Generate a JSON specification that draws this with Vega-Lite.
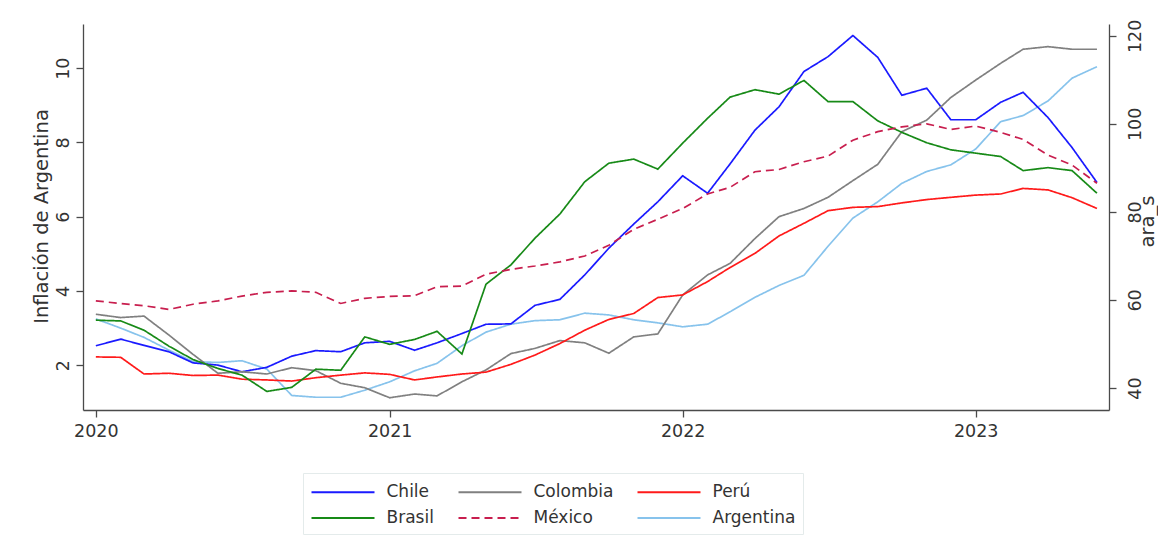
{
  "$schema": "https://vega.github.io/schema/vega-lite/v6.json",
  "width": 1026,
  "height": 386,
  "autosize": {"type": "none"},
  "padding": {"left": 83, "top": 24, "right": 49, "bottom": 144},
  "background": "white",
  "config": {
    "font": "DejaVu Sans",
    "view": {"stroke": null},
    "axis": {
      "grid": false,
      "domainColor": "#4a4a4a",
      "domainWidth": 1.3,
      "tickColor": "#4a4a4a",
      "tickWidth": 1.3,
      "tickSize": 7,
      "labelColor": "#333333",
      "labelFontSize": 17.5,
      "labelFont": "DejaVu Sans",
      "titleFont": "DejaVu Sans",
      "titleFontSize": 19.5,
      "titleFontWeight": "normal",
      "titleColor": "#333333"
    },
    "legend": {
      "orient": "none",
      "legendX": 220,
      "legendY": 449,
      "columns": 3,
      "symbolType": "M-1,0H5",
      "symbolSize": 441,
      "symbolStrokeWidth": 2,
      "labelFontSize": 17,
      "labelFont": "DejaVu Sans",
      "labelColor": "#333333",
      "labelOffset": 53,
      "columnPadding": 20,
      "rowPadding": 6,
      "padding": 7.5,
      "strokeColor": "#e4ebeb"
    }
  },
  "data": {
    "values": [
      {"date": "2020-01-01", "Chile": 2.52, "Brasil": 3.21, "Colombia": 3.37, "Perú": 2.22, "México": 3.73, "Argentina": 55.7},
      {"date": "2020-02-01", "Chile": 2.70, "Brasil": 3.19, "Colombia": 3.28, "Perú": 2.21, "México": 3.66, "Argentina": 53.6},
      {"date": "2020-03-01", "Chile": 2.53, "Brasil": 2.94, "Colombia": 3.32, "Perú": 1.76, "México": 3.60, "Argentina": 51.5},
      {"date": "2020-04-01", "Chile": 2.36, "Brasil": 2.51, "Colombia": 2.81, "Perú": 1.78, "México": 3.50, "Argentina": 48.6},
      {"date": "2020-05-01", "Chile": 2.06, "Brasil": 2.15, "Colombia": 2.29, "Perú": 1.72, "México": 3.64, "Argentina": 46.0},
      {"date": "2020-06-01", "Chile": 2.00, "Brasil": 1.91, "Colombia": 1.78, "Perú": 1.73, "México": 3.73, "Argentina": 45.8},
      {"date": "2020-07-01", "Chile": 1.82, "Brasil": 1.73, "Colombia": 1.82, "Perú": 1.62, "México": 3.86, "Argentina": 46.2},
      {"date": "2020-08-01", "Chile": 1.94, "Brasil": 1.29, "Colombia": 1.76, "Perú": 1.60, "México": 3.96, "Argentina": 44.3},
      {"date": "2020-09-01", "Chile": 2.24, "Brasil": 1.40, "Colombia": 1.93, "Perú": 1.57, "México": 4.00, "Argentina": 38.3},
      {"date": "2020-10-01", "Chile": 2.39, "Brasil": 1.89, "Colombia": 1.85, "Perú": 1.66, "México": 3.96, "Argentina": 37.9},
      {"date": "2020-11-01", "Chile": 2.36, "Brasil": 1.86, "Colombia": 1.51, "Perú": 1.73, "México": 3.66, "Argentina": 37.9},
      {"date": "2020-12-01", "Chile": 2.60, "Brasil": 2.76, "Colombia": 1.39, "Perú": 1.79, "México": 3.80, "Argentina": 39.5},
      {"date": "2021-01-01", "Chile": 2.64, "Brasil": 2.56, "Colombia": 1.12, "Perú": 1.75, "México": 3.85, "Argentina": 41.4},
      {"date": "2021-02-01", "Chile": 2.40, "Brasil": 2.69, "Colombia": 1.22, "Perú": 1.60, "México": 3.87, "Argentina": 43.9},
      {"date": "2021-03-01", "Chile": 2.60, "Brasil": 2.91, "Colombia": 1.17, "Perú": 1.68, "México": 4.11, "Argentina": 45.6},
      {"date": "2021-04-01", "Chile": 2.85, "Brasil": 2.30, "Colombia": 1.55, "Perú": 1.76, "México": 4.13, "Argentina": 49.6},
      {"date": "2021-05-01", "Chile": 3.10, "Brasil": 4.18, "Colombia": 1.87, "Perú": 1.81, "México": 4.45, "Argentina": 52.7},
      {"date": "2021-06-01", "Chile": 3.11, "Brasil": 4.70, "Colombia": 2.31, "Perú": 2.02, "México": 4.58, "Argentina": 54.5},
      {"date": "2021-07-01", "Chile": 3.61, "Brasil": 5.42, "Colombia": 2.45, "Perú": 2.27, "México": 4.67, "Argentina": 55.3},
      {"date": "2021-08-01", "Chile": 3.77, "Brasil": 6.07, "Colombia": 2.66, "Perú": 2.58, "México": 4.78, "Argentina": 55.5},
      {"date": "2021-09-01", "Chile": 4.43, "Brasil": 6.94, "Colombia": 2.60, "Perú": 2.94, "México": 4.94, "Argentina": 57.0},
      {"date": "2021-10-01", "Chile": 5.15, "Brasil": 7.44, "Colombia": 2.32, "Perú": 3.23, "México": 5.23, "Argentina": 56.6},
      {"date": "2021-11-01", "Chile": 5.80, "Brasil": 7.55, "Colombia": 2.76, "Perú": 3.39, "México": 5.66, "Argentina": 55.5},
      {"date": "2021-12-01", "Chile": 6.40, "Brasil": 7.28, "Colombia": 2.84, "Perú": 3.82, "México": 5.93, "Argentina": 54.8},
      {"date": "2022-01-01", "Chile": 7.10, "Brasil": 7.98, "Colombia": 3.89, "Perú": 3.89, "México": 6.22, "Argentina": 53.9},
      {"date": "2022-02-01", "Chile": 6.63, "Brasil": 8.65, "Colombia": 4.43, "Perú": 4.25, "México": 6.61, "Argentina": 54.5},
      {"date": "2022-03-01", "Chile": 7.42, "Brasil": 9.22, "Colombia": 4.74, "Perú": 4.63, "México": 6.79, "Argentina": 57.3},
      {"date": "2022-04-01", "Chile": 8.33, "Brasil": 9.42, "Colombia": 5.41, "Perú": 5.01, "México": 7.21, "Argentina": 60.6},
      {"date": "2022-05-01", "Chile": 8.96, "Brasil": 9.30, "Colombia": 6.00, "Perú": 5.48, "México": 7.27, "Argentina": 63.3},
      {"date": "2022-06-01", "Chile": 9.91, "Brasil": 9.67, "Colombia": 6.22, "Perú": 5.82, "México": 7.48, "Argentina": 65.6},
      {"date": "2022-07-01", "Chile": 10.31, "Brasil": 9.10, "Colombia": 6.52, "Perú": 6.16, "México": 7.63, "Argentina": 72.2},
      {"date": "2022-08-01", "Chile": 10.88, "Brasil": 9.10, "Colombia": 6.97, "Perú": 6.25, "México": 8.06, "Argentina": 78.6},
      {"date": "2022-09-01", "Chile": 10.29, "Brasil": 8.58, "Colombia": 7.41, "Perú": 6.27, "México": 8.29, "Argentina": 82.3},
      {"date": "2022-10-01", "Chile": 9.27, "Brasil": 8.27, "Colombia": 8.29, "Perú": 6.37, "México": 8.42, "Argentina": 86.5},
      {"date": "2022-11-01", "Chile": 9.46, "Brasil": 7.99, "Colombia": 8.60, "Perú": 6.46, "México": 8.50, "Argentina": 89.2},
      {"date": "2022-12-01", "Chile": 8.61, "Brasil": 7.80, "Colombia": 9.21, "Perú": 6.52, "México": 8.35, "Argentina": 90.7},
      {"date": "2023-01-01", "Chile": 8.61, "Brasil": 7.71, "Colombia": 9.68, "Perú": 6.58, "México": 8.44, "Argentina": 94.3},
      {"date": "2023-02-01", "Chile": 9.08, "Brasil": 7.62, "Colombia": 10.13, "Perú": 6.61, "México": 8.27, "Argentina": 100.5},
      {"date": "2023-03-01", "Chile": 9.35, "Brasil": 7.24, "Colombia": 10.51, "Perú": 6.76, "México": 8.08, "Argentina": 101.9},
      {"date": "2023-04-01", "Chile": 8.67, "Brasil": 7.32, "Colombia": 10.58, "Perú": 6.72, "México": 7.66, "Argentina": 105.2},
      {"date": "2023-05-01", "Chile": 7.86, "Brasil": 7.24, "Colombia": 10.51, "Perú": 6.51, "México": 7.39, "Argentina": 110.4},
      {"date": "2023-06-01", "Chile": 6.92, "Brasil": 6.63, "Colombia": 10.51, "Perú": 6.22, "México": 6.90, "Argentina": 113.0}
    ]
  },
  "encoding": {
    "x": {
      "field": "date",
      "type": "temporal",
      "scale": {
        "type": "utc",
        "domain": [
          {"year": 2019, "month": 12, "date": 16, "utc": true},
          {"year": 2023, "month": 6, "date": 16, "utc": true}
        ]
      },
      "axis": {
        "title": null,
        "format": "%Y",
        "formatType": "utc",
        "values": [
          {"year": 2020, "month": 1, "date": 1, "utc": true},
          {"year": 2021, "month": 1, "date": 1, "utc": true},
          {"year": 2022, "month": 1, "date": 1, "utc": true},
          {"year": 2023, "month": 1, "date": 1, "utc": true}
        ],
        "labelPadding": 5,
        "labelFlush": false
      }
    },
    "color": {
      "field": "country",
      "type": "nominal",
      "title": null,
      "scale": {
        "domain": ["Chile", "Brasil", "Colombia", "México", "Perú", "Argentina"],
        "range": ["#1a1aff", "#178a17", "#808080", "#c81e4e", "#ff1a1a", "#87c3ec"]
      }
    },
    "strokeDash": {
      "field": "country",
      "type": "nominal",
      "title": null,
      "scale": {
        "domain": ["Chile", "Brasil", "Colombia", "México", "Perú", "Argentina"],
        "range": [[1, 0], [1, 0], [1, 0], [8, 5], [1, 0], [1, 0]]
      }
    }
  },
  "layer": [
    {
      "transform": [{"fold": ["Argentina"], "as": ["country", "value"]}],
      "mark": {"type": "line", "strokeWidth": 1.7},
      "encoding": {
        "y": {
          "field": "value",
          "type": "quantitative",
          "scale": {"domain": [35, 122.7], "nice": false, "zero": false},
          "axis": {
            "orient": "right",
            "values": [40, 60, 80, 100, 120],
            "labelAngle": -90,
            "labelAlign": "center",
            "labelBaseline": "alphabetic",
            "labelPadding": 24,
            "title": "ara_s",
            "titleAngle": -90,
            "titleAlign": "center",
            "titleBaseline": "alphabetic",
            "titleX": 44,
            "titleY": 197
          }
        }
      }
    },
    {
      "transform": [{"fold": ["Chile", "Colombia", "Perú", "Brasil", "México"], "as": ["country", "value"]}],
      "mark": {"type": "line", "strokeWidth": 1.7},
      "encoding": {
        "y": {
          "field": "value",
          "type": "quantitative",
          "scale": {"domain": [0.79, 11.19], "nice": false, "zero": false},
          "axis": {
            "orient": "left",
            "values": [2, 4, 6, 8, 10],
            "labelAngle": -90,
            "labelAlign": "center",
            "labelBaseline": "alphabetic",
            "labelPadding": 8,
            "title": "Inflación de Argentina",
            "titleAngle": -90,
            "titleAlign": "center",
            "titleBaseline": "alphabetic",
            "titleX": -36,
            "titleY": 192
          }
        }
      }
    }
  ],
  "resolve": {"scale": {"y": "independent"}}
}
